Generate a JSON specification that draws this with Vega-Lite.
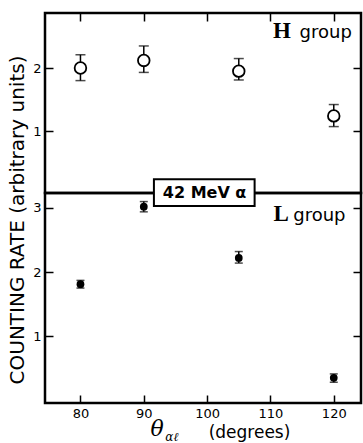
{
  "$schema": "https://vega.github.io/schema/vega-lite/v6.json",
  "background": "white",
  "padding": {"left": 5, "top": 11, "right": 2, "bottom": 0},
  "spacing": 0,
  "bounds": "flush",
  "config": {
    "view": {"stroke": "black", "strokeWidth": 2.5},
    "font": "DejaVu Sans",
    "axis": {
      "grid": false,
      "domain": false,
      "labelFont": "DejaVu Sans",
      "labelFontSize": 13,
      "labelColor": "black",
      "tickColor": "black",
      "tickWidth": 1.5,
      "tickSize": -8,
      "labelPadding": 12,
      "titleColor": "black",
      "titleFont": "DejaVu Sans",
      "titleFontWeight": "normal"
    }
  },
  "vconcat": [
    {
      "width": 316,
      "height": 180,
      "data": {"values": [
        {"angle": 80, "rate": 2.00, "lo": 1.80, "hi": 2.21},
        {"angle": 90, "rate": 2.12, "lo": 1.93, "hi": 2.35},
        {"angle": 105, "rate": 1.95, "lo": 1.81, "hi": 2.15},
        {"angle": 120, "rate": 1.24, "lo": 1.07, "hi": 1.42}
      ]},
      "layer": [
        {
          "mark": {"type": "rule", "strokeWidth": 1.5, "color": "black"},
          "encoding": {
            "x": {"field": "angle", "type": "quantitative",
                  "scale": {"domain": [74.4, 124.3], "nice": false, "zero": false},
                  "axis": {"orient": "top", "labels": false, "title": null, "values": [80, 90, 100, 110, 120]}},
            "y": {"field": "lo", "type": "quantitative",
                  "scale": {"domain": [0.016, 2.873], "nice": false, "zero": false},
                  "axis": {"orient": "left", "values": [1, 2], "format": "d", "title": null}},
            "y2": {"field": "hi"}
          }
        },
        {
          "mark": {"type": "tick", "orient": "horizontal", "size": 10, "thickness": 1.5, "color": "black"},
          "encoding": {
            "x": {"field": "angle", "type": "quantitative"},
            "y": {"field": "lo", "type": "quantitative", "axis": null}}
        },
        {
          "mark": {"type": "tick", "orient": "horizontal", "size": 10, "thickness": 1.5, "color": "black"},
          "encoding": {
            "x": {"field": "angle", "type": "quantitative"},
            "y": {"field": "hi", "type": "quantitative",
                  "axis": {"orient": "right", "labels": false, "title": null, "values": [1, 2]}}}
        },
        {
          "mark": {"type": "point", "shape": "circle", "filled": true, "fill": "white", "stroke": "black", "strokeWidth": 1.8, "size": 135, "opacity": 1},
          "encoding": {
            "x": {"field": "angle", "type": "quantitative"},
            "y": {"field": "rate", "type": "quantitative", "axis": null}}
        },
        {
          "data": {"values": [{"letter": "H"}]},
          "mark": {"type": "text", "font": "Liberation Serif", "fontWeight": "bold", "fontSize": 23, "align": "center", "baseline": "alphabetic", "color": "black"},
          "encoding": {
            "x": {"datum": 111.8, "type": "quantitative"},
            "y": {"datum": 2.48, "type": "quantitative", "axis": null},
            "text": {"field": "letter"}
          }
        },
        {
          "data": {"values": [{"word": "group"}]},
          "mark": {"type": "text", "font": "DejaVu Sans", "fontSize": 18, "align": "left", "baseline": "alphabetic", "color": "black"},
          "encoding": {
            "x": {"datum": 114.6, "type": "quantitative"},
            "y": {"datum": 2.48, "type": "quantitative", "axis": null},
            "text": {"field": "word"}
          }
        }
      ],
      "resolve": {"axis": {"y": "independent"}}
    },
    {
      "width": 316,
      "height": 210,
      "data": {"values": [
        {"angle": 80, "rate": 1.81, "lo": 1.75, "hi": 1.87},
        {"angle": 90, "rate": 3.02, "lo": 2.94, "hi": 3.10},
        {"angle": 105, "rate": 2.22, "lo": 2.14, "hi": 2.32},
        {"angle": 120, "rate": 0.35, "lo": 0.28, "hi": 0.41}
      ]},
      "layer": [
        {
          "mark": {"type": "rule", "strokeWidth": 1.5, "color": "black"},
          "encoding": {
            "x": {"field": "angle", "type": "quantitative",
                  "scale": {"domain": [74.4, 124.3], "nice": false, "zero": false},
                  "axis": {"orient": "bottom", "values": [80, 90, 100, 110, 120], "format": "d",
                           "title": "(degrees)", "titleFontSize": 17, "titleX": 204, "titlePadding": 4}},
            "y": {"field": "lo", "type": "quantitative",
                  "scale": {"domain": [-0.044, 3.234], "nice": false, "zero": false},
                  "axis": {"orient": "left", "values": [1, 2, 3], "format": "d",
                           "title": "COUNTING RATE (arbitrary units)", "titleFontSize": 20,
                           "titleAngle": 270, "titleX": -28, "titleY": 26.5,
                           "titleAlign": "center", "titleBaseline": "middle"}},
            "y2": {"field": "hi"}
          }
        },
        {
          "mark": {"type": "tick", "orient": "horizontal", "size": 8, "thickness": 1.5, "color": "black"},
          "encoding": {
            "x": {"field": "angle", "type": "quantitative"},
            "y": {"field": "lo", "type": "quantitative", "axis": null}}
        },
        {
          "mark": {"type": "tick", "orient": "horizontal", "size": 8, "thickness": 1.5, "color": "black"},
          "encoding": {
            "x": {"field": "angle", "type": "quantitative"},
            "y": {"field": "hi", "type": "quantitative",
                  "axis": {"orient": "right", "labels": false, "title": null, "values": [1, 2, 3]}}}
        },
        {
          "mark": {"type": "point", "shape": "circle", "filled": true, "color": "black", "size": 60, "opacity": 1},
          "encoding": {
            "x": {"field": "angle", "type": "quantitative"},
            "y": {"field": "rate", "type": "quantitative", "axis": null}}
        },
        {
          "data": {"values": [{"letter": "L"}]},
          "mark": {"type": "text", "font": "Liberation Serif", "fontWeight": "bold", "fontSize": 23, "align": "center", "baseline": "alphabetic", "color": "black"},
          "encoding": {
            "x": {"datum": 111.7, "type": "quantitative"},
            "y": {"datum": 2.8, "type": "quantitative", "axis": null},
            "text": {"field": "letter"}
          }
        },
        {
          "data": {"values": [{"word": "group"}]},
          "mark": {"type": "text", "font": "DejaVu Sans", "fontSize": 18, "align": "left", "baseline": "alphabetic", "color": "black"},
          "encoding": {
            "x": {"datum": 113.6, "type": "quantitative"},
            "y": {"datum": 2.8, "type": "quantitative", "axis": null},
            "text": {"field": "word"}
          }
        },
        {
          "data": {"values": [{"box": "42 MeV α"}]},
          "mark": {"type": "rect", "fill": "white", "stroke": "black", "strokeWidth": 2},
          "encoding": {
            "x": {"datum": 91.6, "type": "quantitative"},
            "x2": {"datum": 107.5},
            "y": {"datum": 3.03, "type": "quantitative", "axis": null},
            "y2": {"datum": 3.45}
          }
        },
        {
          "data": {"values": [{"box": "42 MeV α"}]},
          "mark": {"type": "text", "font": "DejaVu Sans", "fontWeight": "bold", "fontSize": 16, "align": "center", "baseline": "middle", "color": "black"},
          "encoding": {
            "x": {"datum": 99.6, "type": "quantitative"},
            "y": {"datum": 3.24, "type": "quantitative", "axis": null},
            "text": {"field": "box"}
          }
        },
        {
          "data": {"values": [{"theta": "θ"}]},
          "mark": {"type": "text", "font": "DejaVu Serif", "fontStyle": "italic", "fontSize": 22, "align": "center", "baseline": "alphabetic", "color": "black"},
          "encoding": {
            "x": {"datum": 92.1, "type": "quantitative"},
            "y": {"datum": -0.56, "type": "quantitative", "axis": null},
            "text": {"field": "theta"}
          }
        },
        {
          "data": {"values": [{"sub": "αℓ"}]},
          "mark": {"type": "text", "font": "DejaVu Serif", "fontStyle": "italic", "fontSize": 12, "align": "left", "baseline": "alphabetic", "color": "black"},
          "encoding": {
            "x": {"datum": 93.4, "type": "quantitative"},
            "y": {"datum": -0.63, "type": "quantitative", "axis": null},
            "text": {"field": "sub"}
          }
        }
      ],
      "resolve": {"axis": {"y": "independent"}}
    }
  ]
}
